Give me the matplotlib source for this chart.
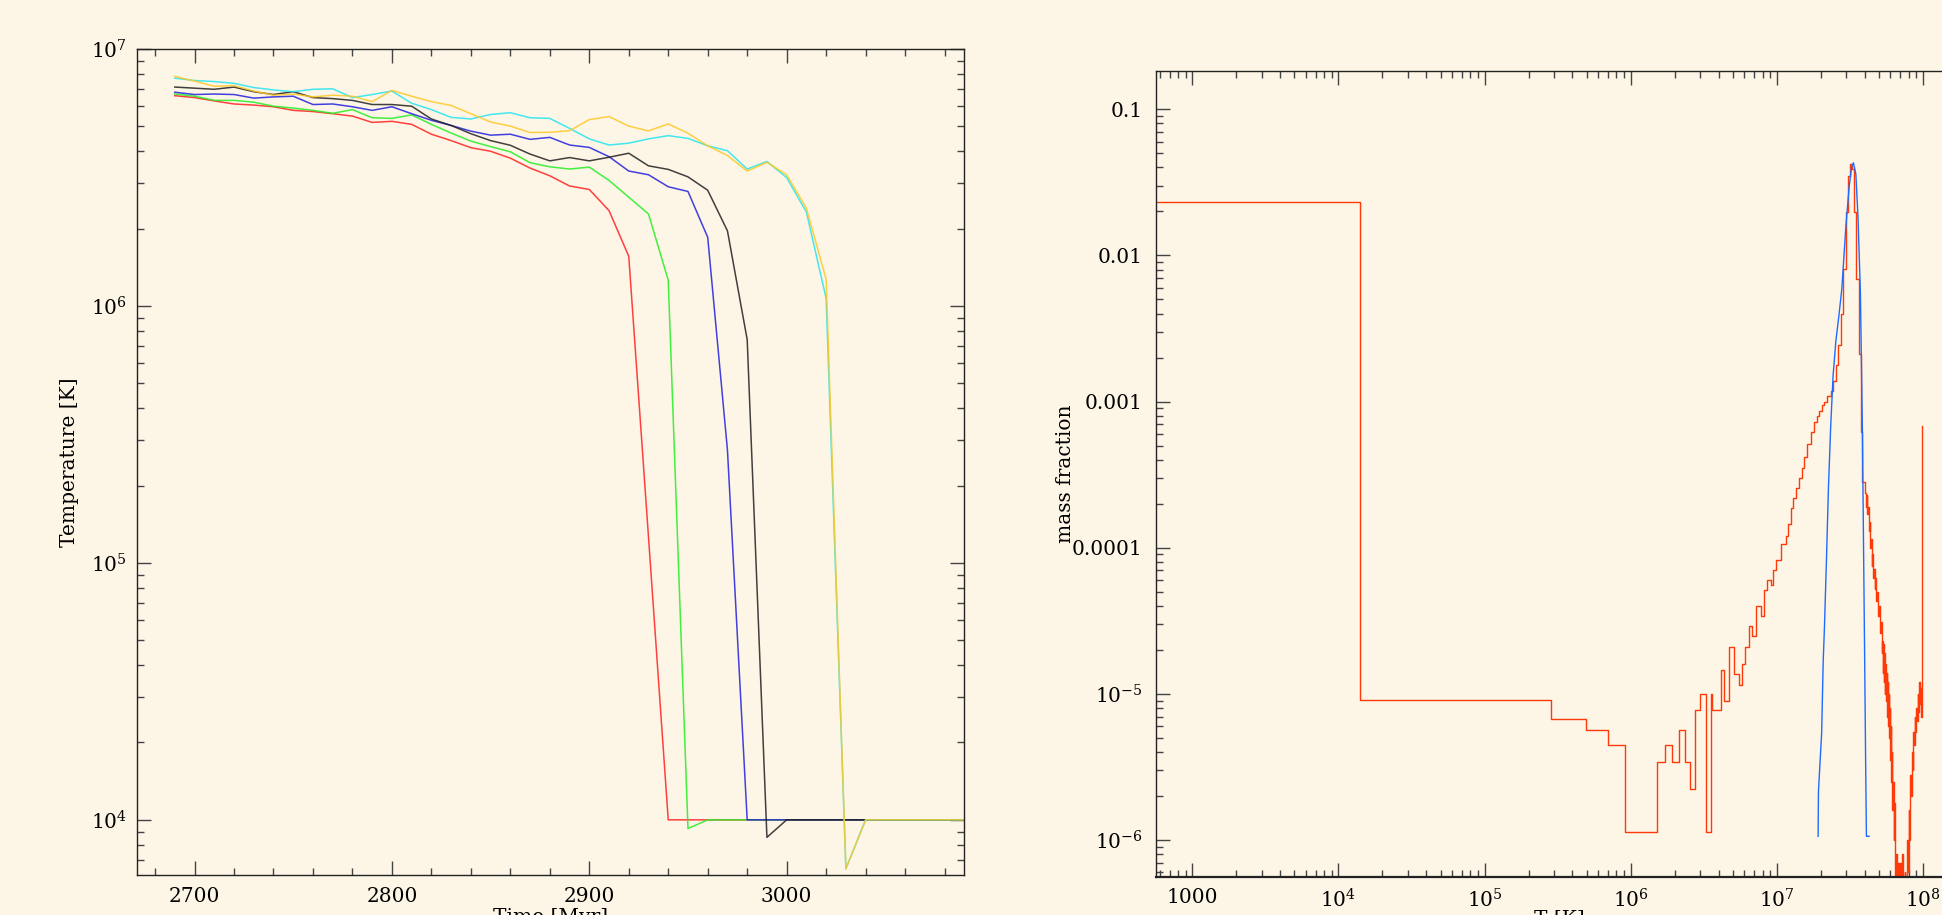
import numpy as np
import matplotlib
matplotlib.use("Agg")
import matplotlib.pyplot as plt
from matplotlib.ticker import MultipleLocator, LogLocator, NullFormatter

# ----------------------------------------------------
# Left panel data: temperature vs time, six runs
# ----------------------------------------------------

time_myr = list(range(2690, 3100, 10))   # 2690 ... 3090

temp_red = [6.58e6, 6.47e6, 6.28e6, 6.11e6, 6.05e6, 5.96e6, 5.77e6, 5.71e6, 5.60e6, 5.48e6,
            5.18e6, 5.23e6, 5.09e6, 4.66e6, 4.40e6, 4.13e6, 4.00e6, 3.76e6, 3.44e6, 3.21e6,
            2.93e6, 2.84e6, 2.35e6, 1.56e6, 1.26e5, 1e4, 1e4, 1e4, 1e4, 1e4,
            1e4, 1e4, 1e4, 1e4, 1e4, 1e4, 1e4, 1e4, 1e4, 1e4, 1e4]

temp_green = [6.68e6, 6.55e6, 6.31e6, 6.31e6, 6.21e6, 5.99e6, 5.89e6, 5.77e6, 5.62e6, 5.81e6,
              5.40e6, 5.37e6, 5.54e6, 5.09e6, 4.71e6, 4.38e6, 4.17e6, 3.98e6, 3.61e6, 3.48e6,
              3.41e6, 3.47e6, 3.08e6, 2.65e6, 2.28e6, 1.26e6, 9.25e3, 1e4, 1e4, 1e4,
              1e4, 1e4, 1e4, 1e4, 1e4, 1e4, 1e4, 1e4, 1e4, 1e4, 1e4]

temp_blue = [6.79e6, 6.65e6, 6.68e6, 6.65e6, 6.44e6, 6.51e6, 6.55e6, 6.08e6, 6.11e6, 5.96e6,
             5.77e6, 5.96e6, 5.60e6, 5.28e6, 5.04e6, 4.79e6, 4.62e6, 4.66e6, 4.45e6, 4.53e6,
             4.23e6, 4.14e6, 3.81e6, 3.35e6, 3.24e6, 2.91e6, 2.79e6, 1.85e6, 2.75e5, 1e4,
             1e4, 1e4, 1e4, 1e4, 1e4, 1e4, 1e4, 1e4, 1e4, 1e4, 1e4]

temp_black = [7.11e6, 7.04e6, 6.97e6, 7.11e6, 6.82e6, 6.65e6, 6.82e6, 6.47e6, 6.41e6, 6.31e6,
              6.08e6, 6.08e6, 5.99e6, 5.34e6, 5.04e6, 4.68e6, 4.40e6, 4.22e6, 3.90e6, 3.67e6,
              3.78e6, 3.67e6, 3.79e6, 3.93e6, 3.51e6, 3.40e6, 3.18e6, 2.82e6, 1.96e6, 7.4e5,
              8.55e3, 1e4, 1e4, 1e4, 1e4, 1e4, 1e4, 1e4, 1e4, 1e4, 1e4]

temp_cyan = [7.70e6, 7.54e6, 7.47e6, 7.35e6, 7.08e6, 6.93e6, 6.82e6, 6.97e6, 7.00e6, 6.47e6,
             6.65e6, 6.86e6, 6.15e6, 5.81e6, 5.42e6, 5.34e6, 5.56e6, 5.65e6, 5.40e6, 5.37e6,
             4.91e6, 4.47e6, 4.23e6, 4.30e6, 4.47e6, 4.60e6, 4.49e6, 4.20e6, 4.02e6, 3.41e6,
             3.65e6, 3.16e6, 2.32e6, 1.07e6, 6.45e3, 1e4, 1e4, 1e4, 1e4, 1e4, 1e4]

temp_gold = [7.82e6, 7.50e6, 7.16e6, 7.20e6, 6.86e6, 6.61e6, 6.68e6, 6.51e6, 6.61e6, 6.55e6,
             6.24e6, 6.90e6, 6.55e6, 6.24e6, 6.03e6, 5.60e6, 5.20e6, 5.01e6, 4.73e6, 4.74e6,
             4.81e6, 5.31e6, 5.46e6, 5.01e6, 4.80e6, 5.11e6, 4.70e6, 4.20e6, 3.85e6, 3.35e6,
             3.62e6, 3.24e6, 2.40e6, 1.27e6, 6.45e3, 1e4, 1e4, 1e4, 1e4, 1e4, 1e4]

run_colors = ["#ff2020", "#22ee22", "#2020dd", "#202020", "#22e5f0", "#ffc825"]

# ----------------------------------------------------
# Right panel data: mass fraction vs temperature
# ----------------------------------------------------

# broad histogram (left edge of each step, mass fraction)
hist_T = [5.0e2, 1.41e4, 2.86e5, 4.92e5, 7.05e5, 9.12e5, 1.51e6, 1.71e6, 1.91e6, 2.14e6,
          2.36e6, 2.54e6, 2.77e6, 2.98e6, 3.30e6, 3.54e6, 3.63e6, 4.14e6, 4.37e6, 4.72e6,
          5.11e6, 5.50e6, 5.82e6, 6.07e6, 6.47e6, 6.81e6, 7.18e6, 7.76e6, 8.18e6, 8.63e6,
          9.10e6, 9.50e6, 9.84e6, 1.07e7, 1.15e7, 1.20e7, 1.25e7, 1.30e7, 1.35e7, 1.42e7,
          1.48e7, 1.54e7, 1.62e7, 1.71e7, 1.80e7, 1.88e7, 1.95e7, 2.03e7, 2.11e7, 2.22e7,
          2.34e7, 2.43e7, 2.54e7, 2.64e7, 2.74e7, 2.84e7, 2.97e7, 3.08e7, 3.18e7, 3.26e7,
          3.38e7, 3.51e7, 3.66e7, 3.80e7, 3.86e7,
          4.00e7, 4.08e7, 4.13e7, 4.17e7, 4.22e7, 4.27e7, 4.33e7, 4.38e7, 4.43e7, 4.48e7,
          4.52e7, 4.57e7, 4.62e7, 4.68e7, 4.73e7, 4.80e7, 4.87e7, 4.93e7, 5.00e7, 5.07e7,
          5.15e7, 5.22e7, 5.27e7,
          5.30e7, 5.35e7, 5.40e7, 5.45e7, 5.50e7, 5.55e7,
          5.60e7, 5.65e7, 5.70e7, 5.75e7, 5.80e7, 5.85e7, 5.90e7, 5.95e7, 6.00e7, 6.05e7,
          6.10e7, 6.15e7, 6.20e7, 6.25e7, 6.30e7, 6.35e7, 6.40e7, 6.45e7, 6.50e7, 6.60e7,
          6.70e7, 6.80e7, 6.90e7, 7.00e7, 7.10e7, 7.20e7, 7.30e7, 7.50e7, 7.60e7, 7.80e7,
          7.90e7, 8.00e7, 8.10e7, 8.20e7, 8.30e7, 8.40e7, 8.50e7, 8.60e7, 8.70e7, 8.80e7,
          8.90e7, 9.00e7, 9.10e7, 9.20e7, 9.30e7, 9.40e7, 9.50e7, 9.60e7, 9.70e7, 9.80e7,
          9.88e7]

hist_frac = [2.32e-2, 9.08e-6, 6.78e-6, 5.64e-6, 4.48e-6, 1.13e-6, 3.40e-6, 4.48e-6, 3.40e-6, 5.64e-6,
             3.40e-6, 2.25e-6, 7.76e-6, 1.0e-5, 1.13e-6, 1.0e-5, 7.8e-6, 1.45e-5, 9.0e-6, 2.1e-5,
             1.36e-5, 1.15e-5, 1.6e-5, 2.1e-5, 2.9e-5, 2.5e-5, 4.0e-5, 3.4e-5, 5.1e-5, 6.0e-5,
             5.6e-5, 7.0e-5, 8.3e-5, 1.06e-4, 1.2e-4, 1.45e-4, 1.86e-4, 2.2e-4, 2.57e-4, 3.0e-4,
             3.5e-4, 4.15e-4, 5.1e-4, 6.2e-4, 7.3e-4, 8.0e-4, 8.6e-4, 9.4e-4, 1.0e-3, 1.09e-3,
             1.18e-3, 1.39e-3, 1.77e-3, 2.45e-3, 3.95e-3, 8.1e-3, 1.97e-2, 3.47e-2, 4.2e-2, 3.9e-2,
             1.97e-2, 6.9e-3, 2.1e-3, 6.2e-4, 2.8e-4,
             2.38e-4, 1.9e-4, 2.3e-4, 1.7e-4, 1.9e-4, 1.3e-4, 1.5e-4, 1.0e-4, 1.15e-4, 7.5e-5,
             9.0e-5, 6.2e-5, 7.2e-5, 5.2e-5, 6.2e-5, 4.3e-5, 5.0e-5, 3.4e-5, 4.0e-5, 2.6e-5,
             3.1e-5, 1.9e-5, 2.3e-5,
             1.4e-5, 2.2e-5, 1.2e-5, 1.9e-5, 1.0e-5, 1.6e-5,
             9e-6, 1.4e-5, 7e-6, 1.2e-5, 6e-6, 1.0e-5, 5e-6, 8e-6, 3.5e-6, 6e-6,
             2.5e-6, 4e-6, 1.6e-6, 2.5e-6, 1.0e-6, 1.8e-6, 6e-7, 1.2e-6, 3e-7, 8e-7,
             3e-7, 7e-7, 3e-7, 7e-7, 3e-7, 8e-7, 3e-7, 6e-7, 3e-7, 1.0e-6,
             6e-7, 1.6e-6, 1.0e-6, 2.8e-6, 2.0e-6, 4e-6, 3e-6, 5.5e-6, 4.5e-6, 7e-6,
             5.5e-6, 8e-6, 6.5e-6, 1.0e-5, 7.5e-6, 1.2e-5, 8.5e-6, 1.1e-5, 7e-6, 1.1e-5,
             6.8e-4]

# narrow hot-gas peak
peak_T = [1.92e7, 1.93e7, 2.03e7, 2.08e7, 2.12e7, 2.19e7, 2.26e7, 2.34e7, 2.43e7, 2.54e7,
          2.67e7, 2.79e7, 2.97e7, 3.13e7, 3.26e7, 3.35e7, 3.48e7, 3.60e7, 3.74e7, 3.86e7,
          3.92e7, 4.00e7, 4.06e7, 4.11e7, 4.29e7]
peak_frac = [1.06e-6, 2.15e-6, 5.4e-6, 1.67e-5, 2.8e-5, 8.3e-5, 2.6e-4, 6.7e-4, 1.5e-3, 2.6e-3,
             3.95e-3, 5.9e-3, 1.55e-2, 2.95e-2, 4.06e-2, 4.3e-2, 3.6e-2, 1.82e-2, 5.5e-3, 6.2e-4,
             1.25e-4, 1.67e-5, 3.4e-6, 1.06e-6, 1.06e-6]

# ----------------------------------------------------
# Figure setup
# ----------------------------------------------------

bg = "#fdf5e6"
plt.rcParams["font.family"] = ["DejaVu Serif"]
plt.rcParams["mathtext.fontset"] = "dejavuserif"
plt.rcParams["font.size"] = 14.5

fig = plt.figure(figsize=(19.42, 9.15), dpi=100, facecolor=bg)

ax1 = fig.add_axes([137.3 / 1942, 1 - 875 / 915, 827 / 1942, 826 / 915])
ax2 = fig.add_axes([1156 / 1942, 1 - 876.7 / 915, 806 / 1942, 806 / 915])


def style_axes(ax, xpad, ypad):
    ax.set_facecolor(bg)
    for s in ax.spines.values():
        s.set_linewidth(1.0)
        s.set_color("#222222")
    ax.tick_params(which="both", direction="in", top=True, right=True,
                   color="#444444", width=1.0)
    ax.tick_params(which="major", length=10)
    ax.tick_params(which="minor", length=5)
    ax.tick_params(axis="x", which="major", pad=xpad)
    ax.tick_params(axis="y", which="major", pad=ypad)


# ----------------------------------------------------
# Left panel: temperature evolution
# ----------------------------------------------------

runs = [temp_red, temp_green, temp_blue, temp_black, temp_cyan, temp_gold]
for temps, c in zip(runs, run_colors):
    ax1.plot(time_myr, temps, color=c, linewidth=1.1, alpha=0.85)

ax1.set_yscale("log")
ax1.set_xlim(2671, 3090)
ax1.set_ylim(6.1e3, 1e7)
ax1.xaxis.set_major_locator(MultipleLocator(100))
ax1.xaxis.set_minor_locator(MultipleLocator(20))
ax1.set_yticks([1e4, 1e5, 1e6, 1e7])
ax1.set_yticklabels([r"$10^4$", r"$10^5$", r"$10^6$", r"$10^7$"])
ax1.yaxis.set_minor_locator(LogLocator(base=10, subs=np.arange(2, 10)))
ax1.yaxis.set_minor_formatter(NullFormatter())
style_axes(ax1, 8.4, 7.6)

# x label sits at the lower edge and is partly cut off, as in the original
ax1.set_xlabel("Time [Myr]", va="top")
ax1.xaxis.set_label_coords(0.5, -0.040)
ax1.set_ylabel("Temperature [K]")
ax1.yaxis.set_label_coords(-0.070, 0.5)

# ----------------------------------------------------
# Right panel: mass fraction histogram
# ----------------------------------------------------

ax2.step(hist_T, hist_frac, where="post", color="#ff3a0a", linewidth=1.0)
ax2.plot(peak_T, peak_frac, color="#1f6bff", linewidth=1.0)

ax2.set_xscale("log")
ax2.set_yscale("log")
ax2.set_xlim(564, 1.854e8)
ax2.set_ylim(5.61e-7, 0.1836)
ax2.set_xticks([1e3, 1e4, 1e5, 1e6, 1e7, 1e8])
ax2.set_xticklabels(["1000", r"$10^4$", r"$10^5$", r"$10^6$", r"$10^7$", r"$10^8$"])
ax2.set_yticks([1e-1, 1e-2, 1e-3, 1e-4, 1e-5, 1e-6])
ax2.set_yticklabels(["0.1", "0.01", "0.001", "0.0001", r"$10^{-5}$", r"$10^{-6}$"])
for axis in (ax2.xaxis, ax2.yaxis):
    axis.set_minor_locator(LogLocator(base=10, subs=np.arange(2, 10), numticks=20))
    axis.set_minor_formatter(NullFormatter())
style_axes(ax2, 8.4, 9.6)
ax2.spines["bottom"].set_linewidth(1.6)

ax2.set_xlabel("T [K]", va="top")
ax2.xaxis.set_label_coords(0.5, -0.041)
ax2.set_ylabel("mass fraction")
ax2.yaxis.set_label_coords(-0.101, 0.5)

fig.savefig("out.png", dpi=100, facecolor=bg)
